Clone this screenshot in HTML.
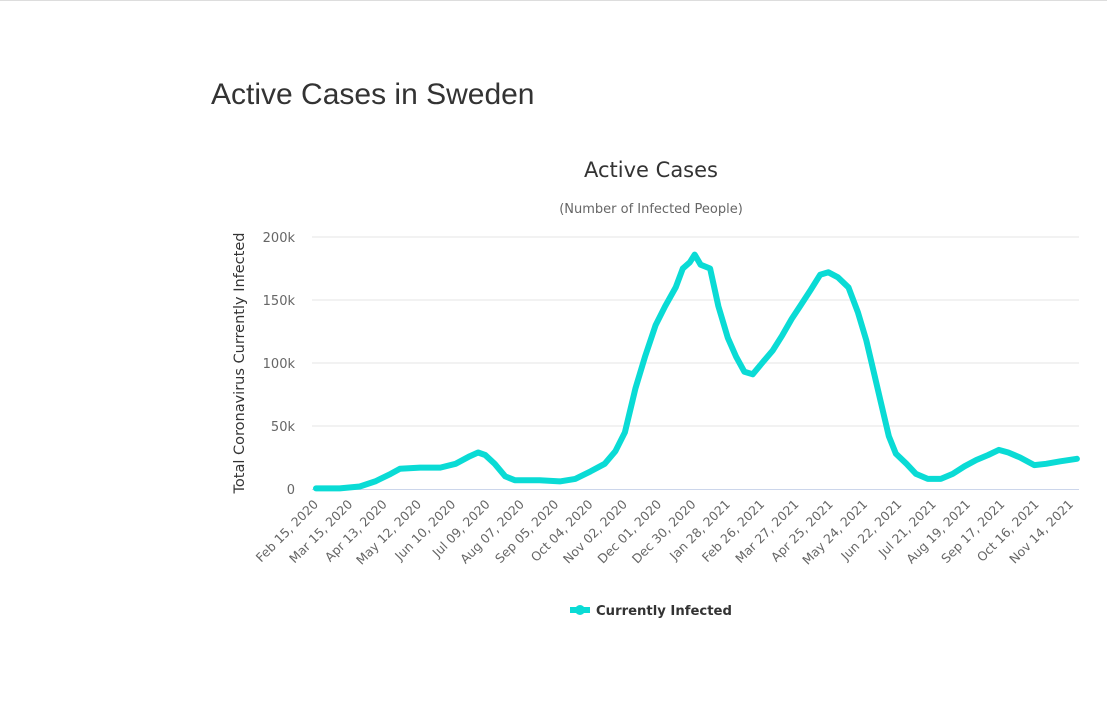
<!DOCTYPE html>
<html><head><meta charset="utf-8"><style>
html,body{margin:0;padding:0;background:#fff;width:1107px;height:718px;overflow:hidden;font-family:"Liberation Sans","DejaVu Sans",sans-serif}
#top{position:absolute;left:0;top:0;width:1107px;height:1px;background:#ddd}
h1{position:absolute;left:211px;top:78px;margin:0;font-size:30px;font-weight:normal;color:#333}
svg{position:absolute;left:0;top:0;font-family:"DejaVu Sans","Liberation Sans",sans-serif}
</style></head><body>
<div id="top"></div>
<h1>Active Cases in Sweden</h1>
<svg id="chart" width="1107" height="718"></svg>
<script>
const tickLabels=["Feb 15, 2020","Mar 15, 2020","Apr 13, 2020","May 12, 2020","Jun 10, 2020","Jul 09, 2020","Aug 07, 2020","Sep 05, 2020","Oct 04, 2020","Nov 02, 2020","Dec 01, 2020","Dec 30, 2020","Jan 28, 2021","Feb 26, 2021","Mar 27, 2021","Apr 25, 2021","May 24, 2021","Jun 22, 2021","Jul 21, 2021","Aug 19, 2021","Sep 17, 2021","Oct 16, 2021","Nov 14, 2021"];
const yTicks=[0,50000,100000,150000,200000];
const yTickLabels=["0","50k","100k","150k","200k"];
const days=[0,20,37,50,63,71,88,105,118,130,137,143,151,160,168,189,206,219,232,244,253,261,270,278,287,295,304,310,316,320,325,333,340,348,355,362,369,377,386,394,402,409,418,426,433,441,450,458,465,472,477,484,490,499,507,517,528,538,548,558,568,577,585,595,607,617,629,643];
const values=[500,500,2000,6000,12000,16000,17000,17000,20000,26000,29000,27000,20000,10000,7000,7000,6000,8000,14000,20000,30000,45000,80000,105000,130000,145000,160000,175000,180000,186000,178000,175000,145000,120000,105000,93000,91000,100000,110000,122000,135000,145000,158000,170000,172000,168000,160000,140000,118000,90000,70000,42000,28000,20000,12000,8000,8000,12000,18000,23000,27000,31000,29000,25000,19000,20000,22000,24000];
const NS="http://www.w3.org/2000/svg";
const svg=document.getElementById('chart');
const X0=316,X1=1077,Y0=489,Y1=237,tickStep=29;
const dayPx=(1073-318)/22/tickStep;
function xs(d){return X0+d*dayPx;}
function ys(v){return Y0-(v/200000)*(Y0-Y1);}
function mk(t,a,txt){const e=document.createElementNS(NS,t);for(const k in a)e.setAttribute(k,a[k]);if(txt!==undefined)e.textContent=txt;svg.appendChild(e);return e;}
let e;
e=mk('text',{x:651,y:177,'text-anchor':'middle','font-size':21,fill:'#333'},'Active Cases');


e=mk('text',{x:651,y:213,'text-anchor':'middle','font-size':13,fill:'#666'},'(Number of Infected People)');


e=mk('text',{x:0,y:0,'text-anchor':'middle','font-size':14.5,fill:'#333',transform:'translate(244,363) rotate(-90)'},'Total Coronavirus Currently Infected');


yTicks.forEach((v,i)=>{
  if(i>0){e=mk('line',{x1:X0-4,x2:X1+2,y1:ys(v),y2:ys(v),stroke:'#e6e6e6','stroke-width':1});
  
  }
  e=mk('text',{x:295,y:ys(v)+5,'text-anchor':'end','font-size':13,fill:'#666'},yTickLabels[i]);
  
  
});
e=mk('line',{x1:X0-4,x2:X1+2,y1:Y0+0.5,y2:Y0+0.5,stroke:'#ccd6eb','stroke-width':1});


tickLabels.forEach((t,i)=>{
  const x=xs(i*tickStep)+3;
  e=mk('text',{x:0,y:0,'text-anchor':'end','font-size':12.5,fill:'#666',transform:`translate(${x},${Y0+16}) rotate(-45)`},t);
  
  
});
const pts=days.map((d,i)=>xs(d).toFixed(1)+','+ys(values[i]).toFixed(1)).join(' ');
e=mk('polyline',{points:pts,fill:'none',stroke:'#0adbd5','stroke-width':6,'stroke-linejoin':'round','stroke-linecap':'round'});


e=mk('line',{x1:570,x2:590,y1:610,y2:610,stroke:'#0adbd5','stroke-width':6});


e=mk('circle',{cx:580,cy:610,r:5,fill:'#0adbd5'});


e=mk('text',{x:596,y:615,'font-size':13.2,'font-weight':'bold',fill:'#333'},'Currently Infected');


</script>
</body></html>
